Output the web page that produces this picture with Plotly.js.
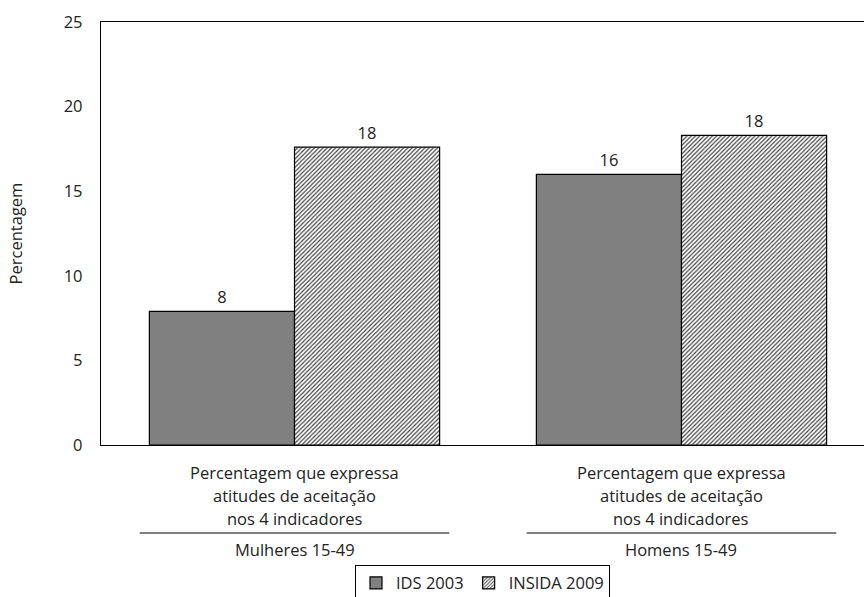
<!DOCTYPE html>
<html>
<head>
<meta charset="utf-8">
<script src="https://cdn.plot.ly/plotly-3.0.1.min.js"></script>
<style>html,body{margin:0;padding:0;background:#fff;}#chart{width:864px;height:597px;}</style>
</head>
<body>
<div id="chart"></div>
<script>
const categories = ["Mulheres", "Homens"];
const categoryLines = [
  ["Percentagem que expressa", "atitudes de aceitação", "nos 4 indicadores"],
  ["Percentagem que expressa", "atitudes de aceitação", "nos 4 indicadores"]
];
const groupLabels = ["Mulheres 15-49", "Homens 15-49"];
const ids2003 = [7.9, 16.0];
const insida2009 = [17.6, 18.3];
const ids2003Labels = ["8", "16"];
const insida2009Labels = ["18", "18"];
const seriesNames = ["IDS 2003", "INSIDA 2009"];
const yTicks = [0, 5, 10, 15, 20, 25];

const FONT = "'Open Sans', sans-serif";
const FS = 16.5;
const xIdx = categories.map((c, i) => i);

const traces = [
  {
    type: "bar", name: seriesNames[0], x: xIdx, y: ids2003,
    text: ids2003Labels, textposition: "outside", cliponaxis: false,
    textfont: {size: FS, color: "#222", family: FONT},
    marker: {color: "#808080", line: {color: "#000", width: 1.2}}
  },
  {
    type: "bar", name: seriesNames[1], x: xIdx, y: insida2009,
    text: insida2009Labels, textposition: "outside", cliponaxis: false,
    textfont: {size: FS, color: "#222", family: FONT},
    marker: {color: "#ffffff", line: {color: "#000", width: 1.2},
      pattern: {shape: "/", fgcolor: "#444", bgcolor: "#ffffff", size: 3, solidity: 0.4}}
  }
];

const annotations = [];
const shapes = [];
categories.forEach((c, i) => {
  categoryLines[i].forEach((t, k) => {
    annotations.push({x: i, y: 0, xref: "x", yref: "paper", yanchor: "middle",
      yshift: -(27 + k * 23), text: t, showarrow: false,
      font: {size: FS, color: "#222", family: FONT}});
  });
  annotations.push({x: i, y: 0, xref: "x", yref: "paper", yanchor: "middle",
    yshift: -104, text: groupLabels[i], showarrow: false,
    font: {size: FS, color: "#222", family: FONT}});
  shapes.push({type: "line", xref: "x", yref: "paper", x0: i - 0.4, x1: i + 0.4,
    y0: -0.208, y1: -0.208, line: {color: "#000", width: 1.2}});
});

const layout = {
  width: 864, height: 597,
  margin: {l: 101, r: 0, t: 22, b: 152, autoexpand: false},
  paper_bgcolor: "#fff", plot_bgcolor: "#fff",
  font: {family: FONT, size: FS, color: "#222"},
  barmode: "group", bargap: 0.25, bargroupgap: 0,
  showlegend: true,
  legend: {orientation: "h", x: 0.5, xanchor: "center", y: -0.283, yanchor: "top",
    bordercolor: "#000", borderwidth: 1, font: {size: FS, family: FONT, color: "#222"},
    itemwidth: 30, tracegroupgap: 0},
  xaxis: {range: [-0.5, 1.4716], showticklabels: false, ticks: "", showgrid: false,
    zeroline: false, showline: true, linecolor: "#000", linewidth: 1.2, mirror: true},
  yaxis: {range: [0, 25], tickvals: yTicks, ticks: "", showgrid: false, zeroline: false,
    showline: true, linecolor: "#000", linewidth: 1.2,
    tickfont: {size: FS, family: FONT, color: "#222"}, ticklabelstandoff: 14,
    title: {text: "Percentagem", standoff: 36, font: {size: FS, family: FONT, color: "#222"}}},
  annotations: annotations,
  shapes: shapes
};

Plotly.newPlot("chart", traces, layout, {displayModeBar: false, staticPlot: true});
</script>
</body>
</html>
